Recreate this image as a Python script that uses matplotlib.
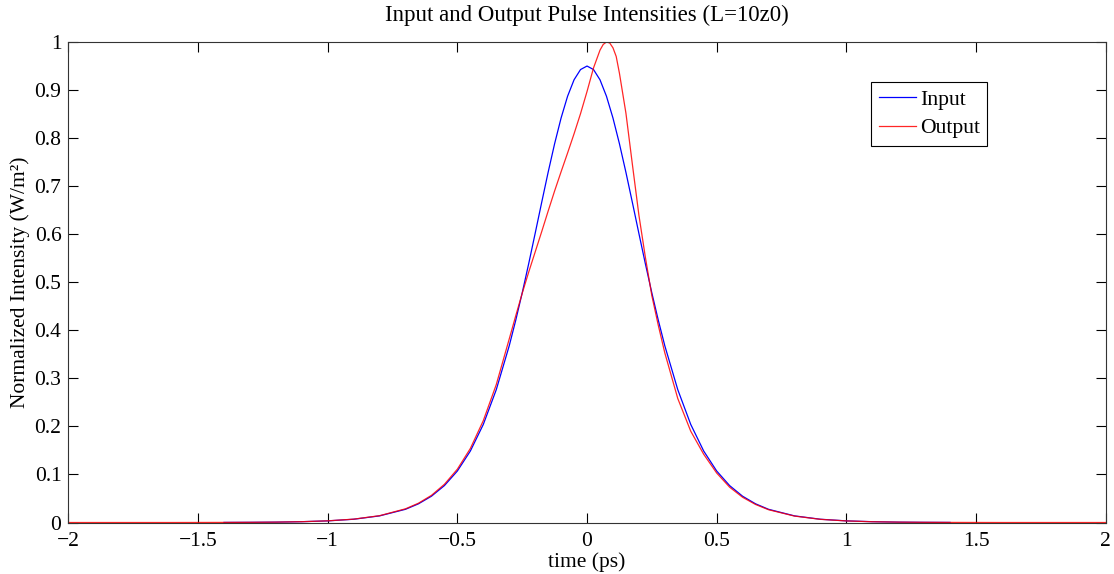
import matplotlib
matplotlib.use("Agg")
import matplotlib.pyplot as plt
from matplotlib.ticker import FuncFormatter

plt.rcParams['font.family'] = ['Liberation Serif', 'DejaVu Serif']

# time samples (ps)
t_input = [-1.4, -1.3, -1.2, -1.1, -1.0, -0.9, -0.8, -0.7, -0.65, -0.6, -0.55, -0.5,
           -0.45, -0.4, -0.35, -0.3, -0.275, -0.25, -0.225, -0.2, -0.175, -0.15,
           -0.125, -0.1, -0.075, -0.05, -0.025, 0.0, 0.025, 0.05, 0.075, 0.1, 0.125,
           0.15, 0.175, 0.2, 0.225, 0.25, 0.275, 0.3, 0.35, 0.4, 0.45, 0.5, 0.55,
           0.6, 0.65, 0.7, 0.8, 0.9, 1.0, 1.1, 1.2, 1.3, 1.4]
input_intensity = [0.0002, 0.0004, 0.0008, 0.0017, 0.0034, 0.0068, 0.0138, 0.0275, 0.0389,
                   0.0547, 0.0768, 0.1072, 0.1487, 0.2041, 0.2764, 0.3678, 0.4207, 0.4778,
                   0.5385, 0.6017, 0.6658, 0.7288, 0.7883, 0.8419, 0.8871, 0.9214, 0.9427,
                   0.95, 0.9427, 0.9214, 0.8871, 0.8419, 0.7883, 0.7288, 0.6658, 0.6017,
                   0.5385, 0.4778, 0.4207, 0.3678, 0.2764, 0.2041, 0.1487, 0.1072, 0.0768,
                   0.0547, 0.0389, 0.0275, 0.0138, 0.0068, 0.0034, 0.0017, 0.0008, 0.0004,
                   0.0002]

t_output = [-2.0, -1.8, -1.6, -1.4, -1.3, -1.2, -1.1, -1.0, -0.9, -0.8, -0.7, -0.65, -0.6,
            -0.55, -0.5, -0.45, -0.4, -0.35, -0.3, -0.275, -0.25, -0.225, -0.2, -0.175,
            -0.15, -0.125, -0.1, -0.075, -0.05, -0.025, 0.0, 0.025, 0.05, 0.0625, 0.075,
            0.0875, 0.1, 0.1125, 0.125, 0.15, 0.175, 0.2, 0.225, 0.25, 0.275, 0.3, 0.35,
            0.4, 0.45, 0.5, 0.55, 0.6, 0.65, 0.7, 0.8, 0.9, 1.0, 1.1, 1.2, 1.3, 1.4,
            1.6, 1.8, 2.0]
output_intensity = [0.0, 0.0, 0.0, 0.0002, 0.0004, 0.0008, 0.0017, 0.0035, 0.007, 0.0142,
                    0.0285, 0.0402, 0.0565, 0.0795, 0.111, 0.154, 0.212, 0.287, 0.382,
                    0.430, 0.477, 0.521, 0.563, 0.605, 0.648, 0.690, 0.730, 0.769, 0.809,
                    0.851, 0.897, 0.946, 0.983, 0.995, 1.0, 0.998, 0.988, 0.970, 0.935,
                    0.852, 0.745, 0.640, 0.552, 0.472, 0.410, 0.353, 0.258, 0.19, 0.142,
                    0.103, 0.0735, 0.0525, 0.0375, 0.0266, 0.0134, 0.0066, 0.0033, 0.0016,
                    0.0008, 0.0004, 0.0002, 0.0, 0.0, 0.0]

x_ticks = [-2, -1.5, -1, -0.5, 0, 0.5, 1, 1.5, 2]
y_ticks = [0, 0.1, 0.2, 0.3, 0.4, 0.5, 0.6, 0.7, 0.8, 0.9, 1]

fig = plt.figure(figsize=(11.14, 5.74), dpi=100)
ax = fig.add_axes([0.0614, 0.0897, 0.9311, 0.8371])

ax.plot(t_input, input_intensity, color='#0000ff', lw=0.9, label='Input')
ax.plot(t_output, output_intensity, color='#ff0000', lw=0.9, label='Output', alpha=0.85)

ax.set_xlim(-2, 2)
ax.set_ylim(0, 1)
ax.set_xticks(x_ticks)
ax.set_yticks(y_ticks)

def fmt(v, pos):
    return ('%g' % v).replace('-', '\u2212')

ax.xaxis.set_major_formatter(FuncFormatter(fmt))
ax.yaxis.set_major_formatter(FuncFormatter(fmt))

ax.tick_params(direction='in', length=7, width=0.8, top=True, right=True,
               labelsize=15.5, colors='black')
ax.tick_params(axis='x', pad=7)
ax.tick_params(axis='y', pad=5)
for s in ax.spines.values():
    s.set_linewidth(0.8)
    s.set_color('#333333')

ax.set_title('Input and Output Pulse Intensities (L=10z0)', fontsize=16.5, pad=15)
ax.set_xlabel('time (ps)', fontsize=15.5, labelpad=1)
ax.set_ylabel('Normalized Intensity (W/m\u00b2)', fontsize=15.5, labelpad=3)

leg = ax.legend(loc='upper right', bbox_to_anchor=(0.886, 0.917), fontsize=15.6,
                handlelength=1.7, handletextpad=0.18, borderpad=0.35, labelspacing=0.4,
                fancybox=False, framealpha=1, borderaxespad=0)
leg.get_frame().set_edgecolor('black')
leg.get_frame().set_linewidth(0.8)

fig.savefig('out.png', dpi=100)
